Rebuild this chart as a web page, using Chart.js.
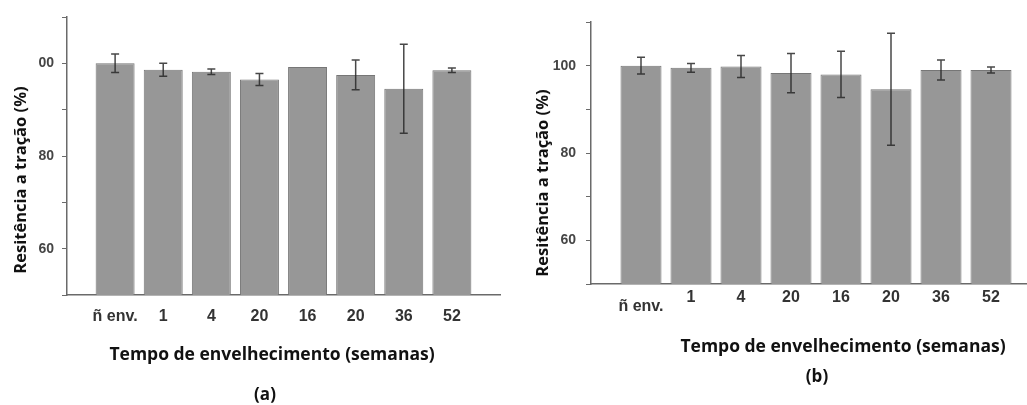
<!DOCTYPE html>
<html>
<head>
<meta charset="utf-8">
<script src="https://cdn.jsdelivr.net/npm/chart.js@4.4.0/dist/chart.umd.min.js"></script>
<style>
  html, body { margin: 0; padding: 0; background: #fff; overflow: hidden; }
  body { position: relative; width: 1027px; height: 405px; }
  canvas { position: absolute; top: 0; }
  #chartA { left: 0; }
  #chartB { left: 520px; }
</style>
</head>
<body>
<canvas id="chartA" width="515" height="405"></canvas>
<canvas id="chartB" width="530" height="405"></canvas>
<script>
// ageing time (weeks)
const categories = ['ñ env.', '1', '4', '20', '16', '20', '36', '52'];

// panel (a): tensile strength retained (%) and std deviation
const strengthA = [100.0, 98.6, 98.2, 96.5, 99.2, 97.5, 94.5, 98.5];
const errorA = [2.0, 1.4, 0.6, 1.3, 0, 3.2, 9.6, 0.5];

// panel (b)
const strengthB = [100.0, 99.5, 99.8, 98.3, 98.0, 94.6, 99.0, 99.0];
const errorB = [1.9, 1.0, 2.5, 4.5, 5.3, 12.8, 2.3, 0.7];

const yTickValues = [60, 80, 100];
const yTickTextA = ['60', '80', '00'];
const yTickTextB = ['60', '80', '100'];

const xTitle = 'Tempo de envelhecimento (semanas)';
const yTitle = 'Resitência a tração (%)';

const TICK_FONT = 'Liberation Sans';
const TITLE_FONT = 'Open Sans';

// vertical error bars with caps, drawn on top of the bars
const errorBars = {
  id: 'errorBars',
  afterDatasetsDraw(chart, args, opts) {
    const meta = chart.getDatasetMeta(0);
    const values = chart.data.datasets[0].data;
    const y = chart.scales.y;
    const ctx = chart.ctx;
    ctx.save();
    ctx.strokeStyle = opts.color;
    ctx.lineWidth = opts.width;
    meta.data.forEach((bar, i) => {
      const v = values[i];
      const e = opts.errors[i];
      if (v == null || !e) return;
      const top = y.getPixelForValue(v + e);
      const bottom = y.getPixelForValue(v - e);
      ctx.beginPath();
      ctx.moveTo(bar.x, top);
      ctx.lineTo(bar.x, bottom);
      ctx.moveTo(bar.x - opts.cap, top);
      ctx.lineTo(bar.x + opts.cap, top);
      ctx.moveTo(bar.x - opts.cap, bottom);
      ctx.lineTo(bar.x + opts.cap, bottom);
      ctx.stroke();
    });
    ctx.restore();
  }
};

// axis titles and panel letter
const captions = {
  id: 'captions',
  afterDraw(chart, args, opts) {
    const ctx = chart.ctx;
    ctx.save();
    ctx.fillStyle = opts.color;
    ctx.textAlign = 'center';
    ctx.textBaseline = 'middle';
    opts.items.forEach((it) => {
      ctx.save();
      ctx.font = `bold ${it.size}px "${TITLE_FONT}"`;
      ctx.translate(it.x, it.y);
      if (it.rotate) ctx.rotate(-Math.PI / 2);
      ctx.fillText(it.text, 0, 0);
      ctx.restore();
    });
    ctx.restore();
  }
};

function makePanel(id, values, errors, tickText, cfg) {
  return new Chart(document.getElementById(id), {
    type: 'bar',
    data: {
      labels: ['', ...categories, ''],
      datasets: [{
        data: [null, ...values, null],
        backgroundColor: '#979797',
        borderColor: '#767676',
        borderWidth: 1,
        borderSkipped: false,
        categoryPercentage: 1,
        barPercentage: cfg.barPct,
      }],
    },
    plugins: [errorBars, captions],
    options: {
      responsive: false,
      animation: false,
      events: [],
      layout: { padding: { top: cfg.top, right: cfg.right, left: 0, bottom: 0 } },
      plugins: {
        legend: { display: false },
        tooltip: { enabled: false },
        errorBars: { errors: [null, ...errors, null], color: 'rgba(40,40,40,0.85)', width: 1.5, cap: 4 },
        captions: { color: '#111', items: cfg.captions },
      },
      scales: {
        x: {
          offset: false,
          grid: { drawOnChartArea: false, drawTicks: false },
          border: { color: '#6a6a6a', width: 1.5 },
          ticks: {
            autoSkip: false,
            maxRotation: 0,
            padding: cfg.xPad,
            color: '#333',
            font: (c) => ({
              family: TICK_FONT,
              size: 16,
              weight: 'bold',
              lineHeight: cfg.dropFirst && c.index === 1 ? 0.78 : 1.2,
            }),
            callback(val, i) {
              const lbl = this.getLabelForValue(val);
              return cfg.dropFirst && i === 1 ? ['', lbl] : lbl;
            },
          },
          afterFit(scale) { scale.height = cfg.xHeight; },
        },
        y: {
          min: 50,
          max: 110,
          grid: { drawOnChartArea: false, drawTicks: true, tickLength: 5, color: '#6a6a6a' },
          border: { color: '#6a6a6a', width: 1.5 },
          ticks: {
            stepSize: 10,
            padding: cfg.yPad,
            color: '#454545',
            font: { family: TICK_FONT, size: 14, weight: 'bold' },
            callback(v) {
              const k = yTickValues.indexOf(v);
              return k >= 0 ? tickText[k] : '';
            },
          },
          afterFit(scale) { scale.width = cfg.yWidth; },
        },
      },
    },
  });
}

makePanel('chartA', strengthA, errorA, yTickTextA, {
  top: 17, right: 15, yWidth: 67, xHeight: 110, xPad: 12, yPad: 8, barPct: 0.81,
  dropFirst: false,
  captions: [
    { text: yTitle, x: 21, y: 180, size: 16.5, rotate: true },
    { text: xTitle, x: 272, y: 355, size: 17.5 },
    { text: '(a)', x: 265, y: 395, size: 17 },
  ],
});

makePanel('chartB', strengthB, errorB, yTickTextB, {
  top: 22, right: 9, yWidth: 71, xHeight: 121, xPad: 4, yPad: 10, barPct: 0.82,
  dropFirst: true,
  captions: [
    { text: yTitle, x: 23, y: 183, size: 16.5, rotate: true },
    { text: xTitle, x: 323, y: 347, size: 17.5 },
    { text: '(b)', x: 297, y: 377, size: 17 },
  ],
});
</script>
</body>
</html>
